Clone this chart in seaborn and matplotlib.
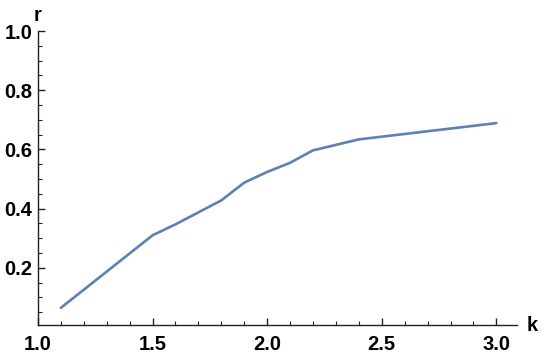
import matplotlib
matplotlib.use("Agg")
import matplotlib.pyplot as plt
from matplotlib.ticker import MultipleLocator, FormatStrFormatter
import pandas as pd
import seaborn as sns

# values
k = [1.1, 1.5, 1.6, 1.8, 1.9, 2.0, 2.1, 2.2, 2.4, 3.0]
r = [0.065, 0.31, 0.347, 0.428, 0.488, 0.524, 0.555, 0.597, 0.634, 0.689]

df = pd.DataFrame({"k": k, "r": r})

sns.set_style("ticks")
plt.rcParams["font.family"] = ["Liberation Sans", "DejaVu Sans"]
plt.rcParams["font.weight"] = "bold"
plt.rcParams["text.color"] = "black"
plt.rcParams["xtick.color"] = "black"
plt.rcParams["ytick.color"] = "black"

fig = plt.figure(figsize=(5.5, 3.61), dpi=100)
ax = fig.add_axes([0.069, 0.0997, 0.871, 0.8143])

sns.lineplot(data=df, x="k", y="r", ax=ax, color="#5E81B5", linewidth=1.9)

ax.set_xlim(1.0, 3.09)
ax.set_ylim(0.007, 1.0)
ax.xaxis.set_minor_locator(MultipleLocator(0.1))
ax.yaxis.set_minor_locator(MultipleLocator(0.05))
ax.set_yticks([0.2, 0.4, 0.6, 0.8, 1.0])
ax.set_xticks([1.0, 1.5, 2.0, 2.5, 3.0])
ax.xaxis.set_major_formatter(FormatStrFormatter("%.1f"))
ax.yaxis.set_major_formatter(FormatStrFormatter("%.1f"))

for side in ["top", "right"]:
    ax.spines[side].set_visible(False)
for side in ["left", "bottom"]:
    ax.spines[side].set_color("#222222")
    ax.spines[side].set_linewidth(1.0)

ax.tick_params(which="major", direction="in", length=5, width=1.0, color="#222222",
               labelsize=14.5, labelcolor="black", pad=4)
ax.tick_params(which="minor", direction="in", length=3, width=0.8, color="#222222")
ax.tick_params(axis="x", pad=7)
for lab in ax.get_xticklabels() + ax.get_yticklabels():
    lab.set_fontweight("bold")

ax.set_xlabel("")
ax.set_ylabel("")
ax.text(0.0, 1.02, "r", transform=ax.transAxes, ha="center", va="bottom",
        fontsize=14.5, fontweight="bold", color="black")
ax.text(1.02, 0.0, "k", transform=ax.transAxes, ha="left", va="center",
        fontsize=14.5, fontweight="bold", color="black")

fig.savefig("out.png", dpi=100)
